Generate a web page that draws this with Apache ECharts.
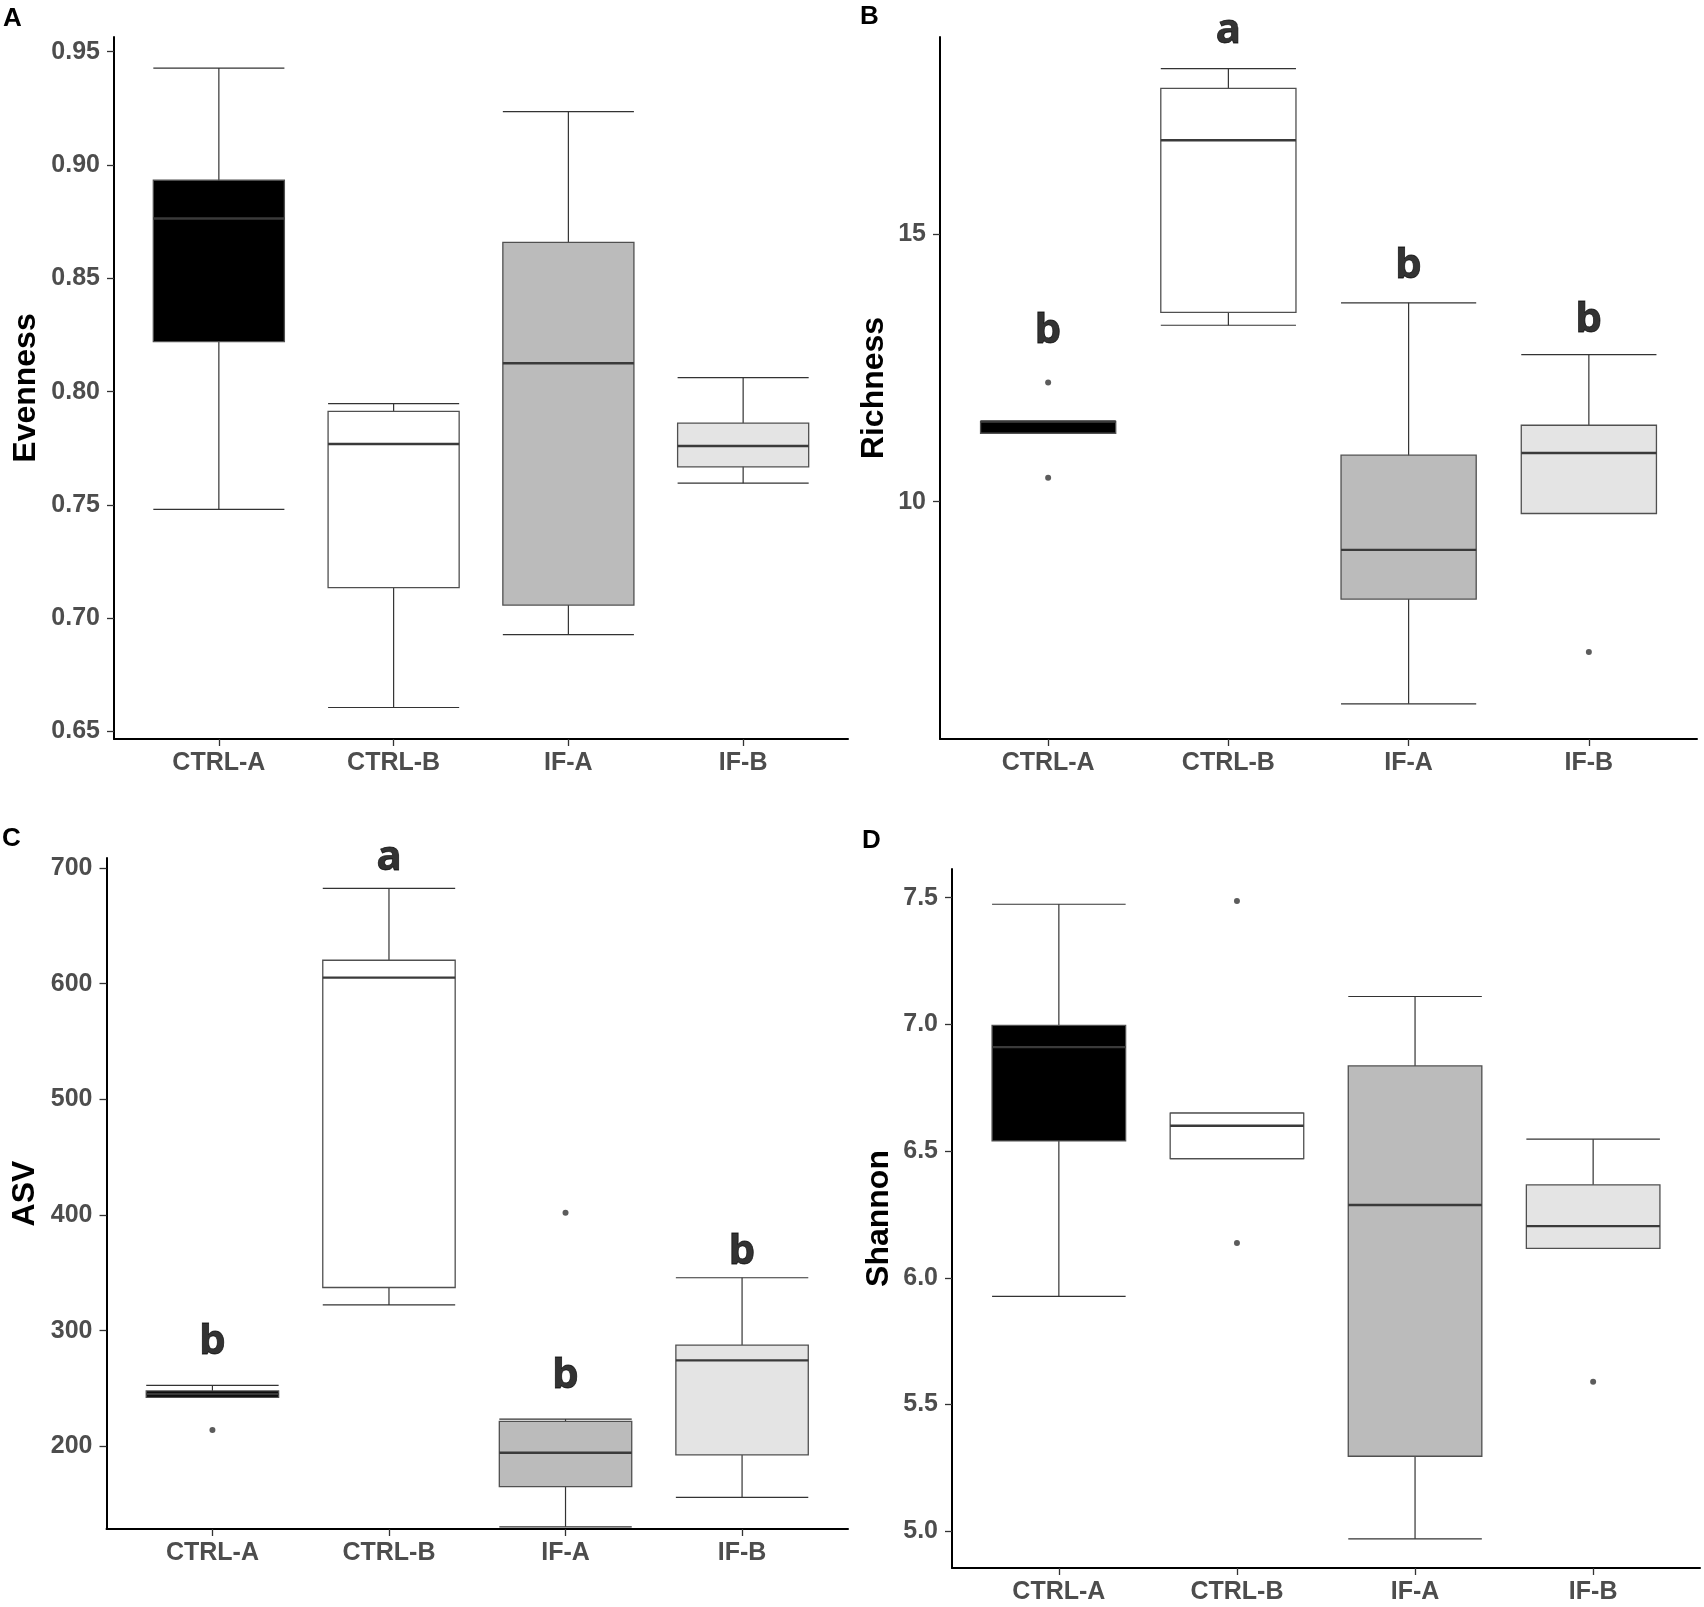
<!DOCTYPE html>
<html>
<head>
<meta charset="utf-8">
<script src="https://cdn.jsdelivr.net/npm/echarts@6/dist/echarts.min.js"></script>
<style>
  html, body { margin: 0; padding: 0; background: #fff; }
  #chart { width: 1704px; height: 1607px; }
</style>
</head>
<body>
<div id="chart"></div>
<script>
// groups on every panel
const groups = ['CTRL-A', 'CTRL-B', 'IF-A', 'IF-B'];
const boxFills = ['#000000', '#FFFFFF', '#BBBBBB', '#E4E4E4'];

// box stats per group: [lower whisker, Q1, median, Q3, upper whisker]
const evennessStats = [
  [0.748, 0.8221, 0.8764, 0.8933, 0.9428],
  [0.6606, 0.7135, 0.7769, 0.7913, 0.7947],
  [0.6928, 0.7058, 0.8125, 0.8659, 0.9236],
  [0.7596, 0.7668, 0.7760, 0.7861, 0.8062]
];
const evennessOutliers = [];  // [group index, value]

const richnessStats = [
  [11.28, 11.28, 11.50, 11.50, 11.50],
  [13.30, 13.54, 16.76, 17.73, 18.10],
  [6.22, 8.18, 9.10, 10.87, 13.72],
  [9.78, 9.78, 10.91, 11.43, 12.75]
];
const richnessOutliers = [[0, 12.23], [0, 10.45], [3, 7.19]];
const richnessLetters = ['b', 'a', 'b', 'b'];
const richnessLetterY = [13.20, 18.80, 14.41, 13.40];

const asvStats = [
  [242.3, 242.3, 245.2, 247.9, 252.7],
  [322.2, 337.3, 605.2, 620.2, 682.3],
  [130.4, 165.2, 194.4, 221.6, 223.5],
  [155.8, 192.5, 274.3, 287.5, 345.7]
];
const asvOutliers = [[0, 214.1], [2, 402]];
const asvLetters = ['b', 'a', 'b', 'b'];
const asvLetterY = [290, 709, 261, 368];

const shannonStats = [
  [5.927, 6.54, 6.91, 6.996, 7.474],
  [6.47, 6.47, 6.60, 6.65, 6.65],
  [4.97, 5.296, 6.287, 6.836, 7.11],
  [6.116, 6.116, 6.204, 6.367, 6.547]
];
const shannonOutliers = [[1, 7.487], [1, 6.137], [3, 5.59]];

// tick labels
const evennessTicks = [0.65, 0.70, 0.75, 0.80, 0.85, 0.90, 0.95];
const richnessTicks = [10, 15];
const asvTicks = [200, 300, 400, 500, 600, 700];
const shannonTicks = [5.0, 5.5, 6.0, 6.5, 7.0, 7.5];

const FONT = 'Liberation Sans';
const TICK_GREY = '#4D4D4D';

const panels = [
  { tag: 'A', name: 'Evenness', stats: evennessStats, outliers: evennessOutliers, ticks: evennessTicks, digits: 2,
    min: 0.6467, max: 0.9565, grid: { left: 114, top: 37, width: 734, height: 702 }, nameGap: 72, tagPos: [3, 6] },
  { tag: 'B', name: 'Richness', stats: richnessStats, outliers: richnessOutliers, ticks: richnessTicks, digits: 0,
    letters: richnessLetters, letterY: richnessLetterY,
    min: 5.563, max: 18.69, grid: { left: 940, top: 37, width: 757, height: 702 }, nameGap: 50, tagPos: [860, 4] },
  { tag: 'C', name: 'ASV', stats: asvStats, outliers: asvOutliers, ticks: asvTicks, digits: 0,
    letters: asvLetters, letterY: asvLetterY,
    min: 128.5, max: 708.6, grid: { left: 106.5, top: 858, width: 741.5, height: 671 }, nameGap: 65, tagPos: [2, 826] },
  { tag: 'D', name: 'Shannon', stats: shannonStats, outliers: shannonOutliers, ticks: shannonTicks, digits: 1,
    min: 4.855, max: 7.613, grid: { left: 952, top: 869, width: 748, height: 699 }, nameGap: 57, tagPos: [862, 828] }
];

function renderBox(params, api) {
  const x = api.value(0);
  const lo = api.coord([x, api.value(1)]);
  const q1 = api.coord([x, api.value(2)]);
  const med = api.coord([x, api.value(3)]);
  const q3 = api.coord([x, api.value(4)]);
  const hi = api.coord([x, api.value(5)]);
  const half = api.size([0.75, 0])[0] / 2;
  const cx = lo[0];
  const wStyle = { stroke: '#333333', lineWidth: 1.2 };
  return {
    type: 'group',
    children: [
      { type: 'line', shape: { x1: cx, y1: hi[1], x2: cx, y2: lo[1] }, style: wStyle },
      { type: 'line', shape: { x1: cx - half, y1: hi[1], x2: cx + half, y2: hi[1] }, style: wStyle },
      { type: 'line', shape: { x1: cx - half, y1: lo[1], x2: cx + half, y2: lo[1] }, style: wStyle },
      { type: 'rect', shape: { x: cx - half, y: q3[1], width: half * 2, height: q1[1] - q3[1] },
        style: { fill: boxFills[params.dataIndex], stroke: '#505050', lineWidth: 1.3 } },
      { type: 'line', shape: { x1: cx - half, y1: med[1], x2: cx + half, y2: med[1] },
        style: { stroke: '#3a3a3a', lineWidth: 2.4 } }
    ]
  };
}

const grid = [], xAxis = [], yAxis = [], series = [], graphic = [];

panels.forEach(function (p, i) {
  grid.push(p.grid);
  xAxis.push({
    type: 'value', gridIndex: i, min: 0.4, max: 4.6,
    splitLine: { show: false },
    axisLine: { show: true, lineStyle: { color: '#000', width: 2 } },
    axisTick: { show: true, length: 7, customValues: [1, 2, 3, 4], lineStyle: { color: '#333', width: 1.3 } },
    axisLabel: {
      customValues: [1, 2, 3, 4], margin: 12,
      formatter: function (v) { return groups[Math.round(v) - 1]; },
      fontFamily: FONT, fontWeight: 'bold', fontSize: 25, color: TICK_GREY
    }
  });
  yAxis.push({
    type: 'value', gridIndex: i, min: p.min, max: p.max,
    name: p.name, nameLocation: 'middle', nameGap: p.nameGap,
    nameTextStyle: { fontFamily: FONT, fontWeight: 'bold', fontSize: 32, color: '#000' },
    splitLine: { show: false },
    axisLine: { show: true, lineStyle: { color: '#000', width: 2 } },
    axisTick: { show: true, length: 7, customValues: p.ticks, lineStyle: { color: '#333', width: 1.3 } },
    axisLabel: {
      customValues: p.ticks, margin: 14,
      formatter: function (v) { return Number(v).toFixed(p.digits); },
      fontFamily: FONT, fontWeight: 'bold', fontSize: 25, color: TICK_GREY
    }
  });

  series.push({
    type: 'custom', xAxisIndex: i, yAxisIndex: i, renderItem: renderBox,
    encode: { x: 0, y: [1, 2, 3, 4, 5] },
    data: p.stats.map(function (s, g) { return [g + 1].concat(s); }),
    silent: true
  });
  series.push({
    type: 'scatter', xAxisIndex: i, yAxisIndex: i, symbolSize: 6,
    itemStyle: { color: '#333333' },
    data: p.outliers.map(function (o) { return [o[0] + 1, o[1]]; }),
    silent: true
  });
  if (p.letters) {
    series.push({
      type: 'scatter', xAxisIndex: i, yAxisIndex: i, symbolSize: 1, clip: false,
      itemStyle: { color: 'rgba(0,0,0,0)' },
      label: {
        show: true, position: 'inside',
        formatter: function (d) { return d.value[2]; },
        fontFamily: 'Noto Sans', fontWeight: 'bold', fontSize: 42, color: '#000',
        textBorderColor: '#000', textBorderWidth: 0.8
      },
      data: p.letters.map(function (l, g) { return [g + 1, p.letterY[g], l]; }),
      silent: true
    });
  }
  graphic.push({
    type: 'text', left: p.tagPos[0], top: p.tagPos[1],
    style: { text: p.tag, font: 'bold 26px "Liberation Sans"', fill: '#000' }
  });
});

const chart = echarts.init(document.getElementById('chart'), null, { renderer: 'canvas' });
chart.setOption({
  backgroundColor: '#ffffff',
  animation: false,
  grid: grid,
  xAxis: xAxis,
  yAxis: yAxis,
  series: series,
  graphic: graphic
});
</script>
</body>
</html>
